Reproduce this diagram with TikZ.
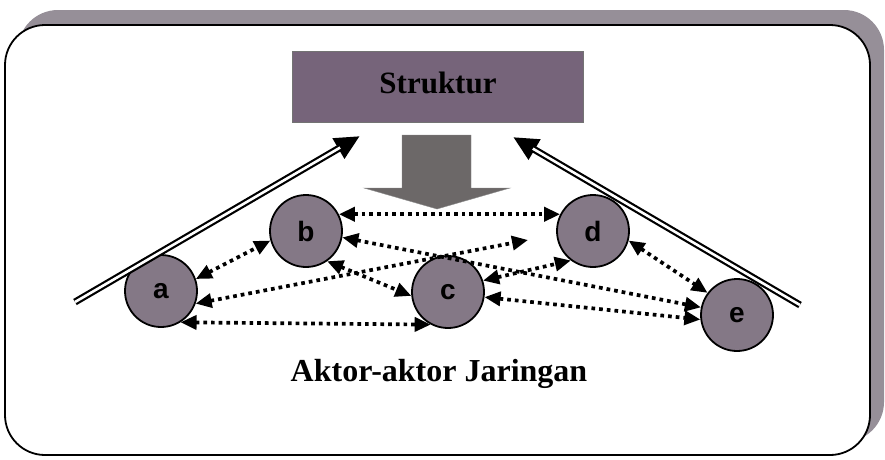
\documentclass[tikz,border=0pt]{standalone}
\usepackage{fontspec}
\setmainfont{Liberation Serif}
\newfontfamily\lsans{Liberation Sans}
\usetikzlibrary{arrows.meta}
\definecolor{shadowc}{RGB}{150,143,152}
\definecolor{strukc}{RGB}{118,100,122}
\definecolor{actorc}{RGB}{132,120,134}
\definecolor{arrowc}{RGB}{108,104,104}
\begin{document}
\begin{tikzpicture}[x=1pt,y=-1pt,
  actor/.style={circle,draw=black,line width=1.8pt,fill=actorc,minimum size=72pt,inner sep=0pt,
    font=\lsans\bfseries\fontsize{28}{28}\selectfont},
  rel/.style={line width=3.7pt,dash pattern=on 3.7pt off 4pt,
    {Triangle[length=16pt,width=14pt]}-{Triangle[length=16pt,width=14pt]}},
  bigline/.style={line width=7pt,-{Triangle[length=25pt,width=22pt]}},
  innerline/.style={line width=2.6pt,white,shorten >=23pt}
]
\useasboundingbox (0,0) rectangle (885,459);
% frame with shadow
\fill[shadowc,rounded corners=40pt] (18,10) rectangle (884,442);
\draw[fill=white,line width=1.8pt,rounded corners=40pt] (5,25) rectangle (870,455);
% Struktur box
\node[draw=black!55,fill=strukc,minimum width=291pt,minimum height=71pt,inner sep=0pt] (S) at (437.5,86.5) {};
\node[font=\bfseries\fontsize{31}{31}\selectfont,anchor=base] (St) at (438,93) {Struktur};
% down arrow
\filldraw[fill=arrowc,draw=black!45] (402,135) -- (471,135) -- (471,188) -- (510,188) -- (437,209) -- (364,188) -- (402,188) -- cycle;
% actors
\node[actor] (a) at (161,291) {a};
\node[actor] (b) at (306,231) {b};
\node[actor] (c) at (448,292) {c};
\node[actor] (d) at (593,231) {d};
\node[actor] (e) at (737,315) {e};
% double arrows to Struktur
\coordinate (L1) at (75,302);
\coordinate (L2) at (360,136);
\coordinate (R1) at (800,305);
\coordinate (R2) at (513,137);
\draw[bigline] (L1) -- (L2);
\draw[innerline] (L1) -- (L2);
\draw[bigline] (R1) -- (R2);
\draw[innerline] (R1) -- (R2);
% relations
\coordinate (ad) at (528,240);
\draw[rel] (a.19) -- (b.195);
\draw[rel] (a.-20) -- (ad);
\draw[rel] (a.-58) -- (c.242);
\draw[rel] (b.27) -- (d.153);
\draw[rel] (b.-10) -- (e.168);
\draw[rel] (b.-55) -- (c.186);
\draw[rel] (c.18) -- (d.233);
\draw[rel] (c.-8) -- (e.187);
\draw[rel] (d.-15) -- (e.143);
% caption
\node[font=\bfseries\fontsize{32}{32}\selectfont,anchor=base] (T) at (439,381) {Aktor-aktor Jaringan};
\end{tikzpicture}
\end{document}
